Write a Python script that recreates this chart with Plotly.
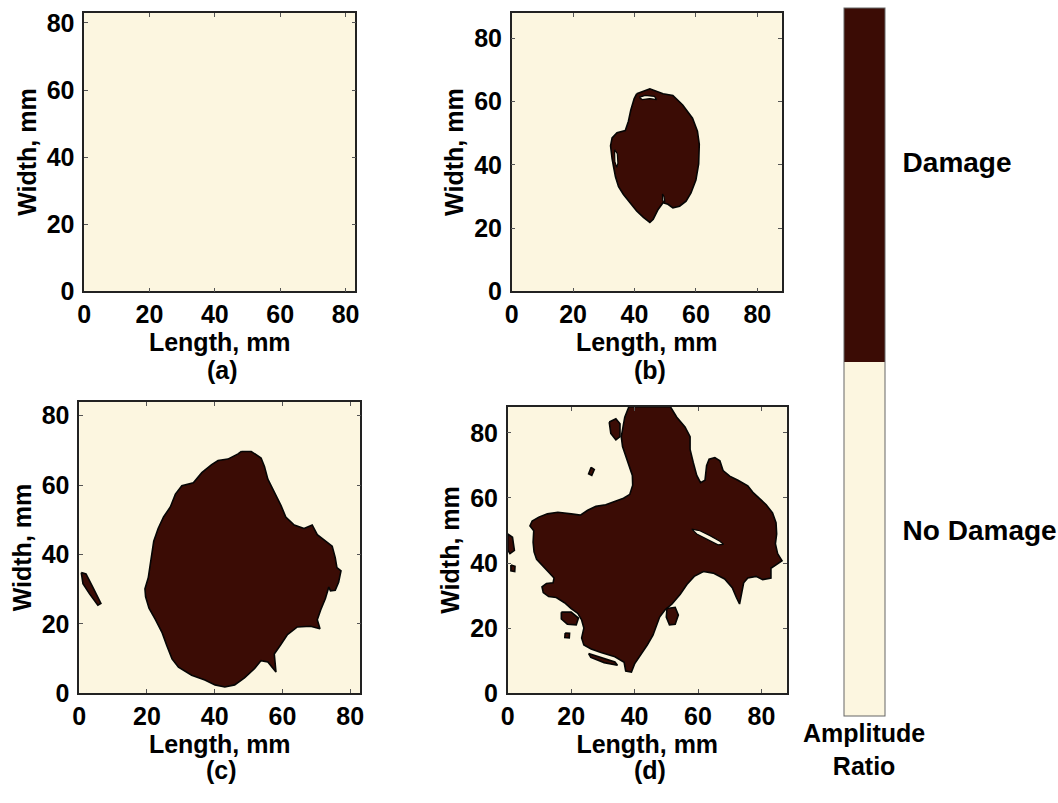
import plotly.graph_objects as go

# ---------------- data (mm) ----------------
CREAM = "#FCF6E0"
BROWN = "#3B0C05"

PANEL_LABELS = ["(a)", "(b)", "(c)", "(d)"]
X_RANGES = [83, 88, 83, 88]
Y_RANGES = [83, 88, 84, 88]
TICKS = [0, 20, 40, 60, 80]
CB_TICKVALS = [0.263, 0.782]
CB_TICKTEXT = ["No Damage", "Damage"]

# panel (b) damage outline
B_DAMAGE = [(40.7, 62.4), (45.0, 64.0), (49.3, 62.4), (52.5, 61.9), (55.7, 58.9), (58.9, 54.7),
            (60.5, 50.6), (61.1, 46.5), (60.9, 40.3), (60.0, 35.2), (58.4, 31.1), (56.8, 28.5),
            (54.7, 26.9), (52.5, 26.4), (50.9, 27.5), (49.3, 28.0), (47.7, 25.9), (46.1, 22.8),
            (45.0, 21.8), (42.9, 23.4), (40.7, 25.4), (38.6, 28.0), (36.4, 30.6), (34.8, 33.1),
            (33.8, 36.2), (33.2, 39.3), (32.7, 41.9), (32.2, 46.0), (32.7, 48.5), (34.3, 50.1),
            (37.0, 50.8), (38.0, 53.7), (38.8, 57.3), (39.9, 60.9)]
B_HOLES = [
    [(41.5, 61.3), (43.5, 61.9), (46.5, 61.6), (47.2, 60.6), (45.0, 60.9), (42.5, 60.6)],
    [(33.5, 44.8), (34.4, 43.5), (34.6, 40.5), (34.2, 39.2), (33.6, 41.0)],
    [(49.1, 30.8), (49.6, 30.0), (49.9, 28.3), (49.2, 28.6)],
]

# panel (c) damage outlines
C_DAMAGE = [
    [(47.9, 69.7), (50.8, 69.7), (53.7, 67.8), (54.7, 65.4), (55.7, 61.7), (57.6, 57.9),
     (59.6, 54.1), (61.0, 50.8), (63.5, 48.5), (66.4, 47.5), (68.8, 48.5), (70.3, 45.7),
     (72.7, 43.8), (74.7, 42.4), (75.6, 39.1), (76.1, 36.2), (77.3, 35.3), (76.6, 32.0),
     (75.6, 29.7), (74.2, 29.5), (73.7, 30.6), (72.7, 27.3), (71.3, 24.0), (70.3, 21.2),
     (71.1, 18.6), (68.3, 19.3), (64.4, 19.1), (61.5, 16.9), (59.6, 14.1), (57.6, 11.3),
     (58.1, 6.1), (55.7, 9.0), (53.7, 9.4), (51.8, 7.1), (48.8, 4.4), (45.9, 2.4),
     (43.0, 1.8), (40.1, 2.4), (37.1, 3.8), (33.2, 5.2), (29.3, 7.5), (27.4, 9.9),
     (25.9, 13.6), (24.5, 17.4), (22.5, 21.2), (20.6, 24.5), (19.6, 27.8), (19.4, 30.1),
     (20.4, 33.4), (21.3, 39.1), (22.0, 43.8), (23.3, 47.5), (24.9, 50.8), (26.9, 53.7),
     (28.4, 57.4), (30.3, 59.8), (33.7, 60.7), (36.2, 63.6), (39.1, 65.9), (41.0, 67.1),
     (43.9, 67.5), (46.9, 69.0)],
    [(0.6, 34.8), (2.0, 34.4), (4.0, 30.6), (6.4, 25.9), (5.5, 25.4), (3.0, 28.7), (1.1, 31.6)],
]

# panel (d) damage outlines
D_DAMAGE = [
    [(38.2, 88.0), (51.3, 88.0), (53.3, 84.8), (55.9, 81.8), (57.5, 78.8), (57.5, 74.9),
     (58.5, 70.9), (59.6, 66.9), (60.8, 64.7), (62.2, 65.4), (62.7, 69.9), (63.5, 71.9),
     (65.3, 72.4), (66.9, 71.4), (67.9, 68.4), (70.0, 66.7), (72.6, 65.4), (75.7, 63.7),
     (77.3, 61.7), (79.4, 59.9), (81.5, 57.9), (83.5, 55.4), (84.6, 52.4), (84.8, 48.9),
     (84.4, 45.9), (85.1, 42.9), (86.5, 40.7), (84.6, 39.4), (83.0, 38.4), (83.0, 35.4),
     (80.4, 34.9), (78.3, 35.9), (75.7, 35.4), (74.4, 33.9), (73.6, 30.4), (73.1, 27.4),
     (72.1, 29.4), (70.8, 32.4), (68.4, 35.1), (64.8, 36.9), (61.7, 37.4), (58.8, 35.9),
     (56.5, 33.4), (54.4, 30.4), (51.8, 27.4), (49.7, 25.7), (47.9, 23.4), (46.9, 20.5),
     (45.8, 17.8), (44.0, 14.8), (41.9, 11.8), (40.0, 9.0), (39.0, 6.5), (37.2, 6.8),
     (36.7, 9.5), (33.8, 11.2), (29.4, 12.5), (26.3, 13.6), (24.0, 14.8), (23.3, 17.0),
     (24.0, 20.0), (23.3, 22.5), (22.1, 24.5), (20.0, 26.0), (17.9, 27.8), (15.3, 29.4),
     (12.9, 29.7), (11.2, 30.9), (10.8, 32.7), (12.2, 33.7), (14.3, 33.9), (14.6, 35.4),
     (12.7, 37.4), (10.6, 39.4), (9.1, 41.1), (8.3, 43.4), (8.0, 46.4), (8.2, 49.9),
     (7.0, 51.4), (7.7, 52.9), (9.8, 54.1), (12.5, 55.1), (15.8, 55.6), (20.0, 55.1),
     (22.9, 54.7), (25.2, 56.2), (27.8, 57.4), (30.9, 57.9), (33.8, 58.9), (36.5, 59.9),
     (38.5, 61.1), (39.4, 63.9), (39.3, 66.9), (38.2, 69.9), (37.2, 72.8), (36.2, 75.8),
     (35.8, 78.8), (36.3, 81.8), (36.9, 84.8), (37.7, 86.8)],
    [(25.5, 12.2), (29.4, 10.9), (33.8, 9.6), (34.6, 8.6), (30.4, 9.4), (26.2, 11.0)],
    [(50.2, 26.0), (52.8, 26.4), (53.8, 24.0), (52.8, 21.2), (51.0, 21.0), (50.0, 23.4)],
    [(32.0, 83.3), (34.1, 84.3), (35.4, 82.8), (35.4, 78.8), (34.1, 77.8), (32.5, 79.8)],
    [(26.3, 69.4), (27.3, 68.7), (26.5, 66.9), (25.5, 67.4)],
    [(0.0, 48.9), (1.5, 47.9), (2.1, 43.9), (0.7, 42.9), (0.0, 44.0)],
    [(1.0, 39.4), (2.3, 39.0), (2.2, 37.4), (1.0, 37.6)],
    [(16.9, 24.9), (20.0, 24.9), (22.3, 23.1), (21.6, 21.0), (18.8, 21.2), (16.9, 22.8)],
    [(18.1, 18.5), (19.5, 18.4), (19.4, 17.0), (18.0, 17.1)],
]
D_HOLES = [
    [(58.0, 50.4), (60.6, 49.9), (63.8, 48.4), (66.9, 46.7), (68.1, 45.7), (66.3, 45.6),
     (63.2, 47.1), (59.6, 48.9)],
]

PANEL_DAMAGE = [[], [B_DAMAGE], C_DAMAGE, D_DAMAGE]
PANEL_HOLES = [[], B_HOLES, [], D_HOLES]

# ---------------- layout geometry (pixels) ----------------
W, H = 1058, 803
BOXES = [(78, 352, 9, 294), (510, 783, 9, 294), (73, 357, 407, 705), (506, 788, 412, 705)]
LABEL_POS = [(218, 374), (650, 374), (217, 784), (650, 784)]

FONT = "Liberation Sans, Arial, sans-serif"
FS = 25


def poly_xy(polys):
    xs, ys = [], []
    for p in polys:
        xs += [q[0] for q in p] + [p[0][0], None]
        ys += [q[1] for q in p] + [p[0][1], None]
    return xs, ys


def bold(size):
    return dict(family=FONT, size=size, color="black", weight=700)


fig = go.Figure()
layout = {}
for i in range(4):
    n = "" if i == 0 else str(i + 1)
    xa, ya = "x" + n, "y" + n
    l, r, t, b = BOXES[i]
    axis_common = dict(
        tickvals=TICKS, ticks="inside", ticklen=4, tickcolor="#555", tickwidth=1,
        showline=True, linecolor="#222", linewidth=1.5, mirror="ticks",
        showgrid=False, zeroline=False, fixedrange=True,
        tickfont=bold(FS),
    )
    layout["xaxis" + n] = dict(
        axis_common, domain=[l / W, r / W], range=[0, X_RANGES[i]], anchor=ya,
        title=dict(text="Length, mm", font=bold(FS), standoff=0),
    )
    layout["yaxis" + n] = dict(
        axis_common, domain=[1 - b / H, 1 - t / H], range=[0, Y_RANGES[i]], anchor=xa,
        ticklabelstandoff=3,
        title=dict(text="Width, mm", font=bold(FS), standoff=3),
    )
    if PANEL_DAMAGE[i]:
        xs, ys = poly_xy(PANEL_DAMAGE[i])
        fig.add_trace(go.Scatter(x=xs, y=ys, xaxis=xa, yaxis=ya, mode="lines", fill="toself",
                                 fillcolor=BROWN, line=dict(color="#050505", width=1.6),
                                 hoverinfo="skip", showlegend=False))
    if PANEL_HOLES[i]:
        xs, ys = poly_xy(PANEL_HOLES[i])
        fig.add_trace(go.Scatter(x=xs, y=ys, xaxis=xa, yaxis=ya, mode="lines", fill="toself",
                                 fillcolor=CREAM, line=dict(color="#050505", width=1.2),
                                 hoverinfo="skip", showlegend=False))

# colour bar (two-level amplitude ratio)
fig.add_trace(go.Scatter(
    x=[None, None], y=[None, None], mode="markers", showlegend=False, hoverinfo="skip",
    marker=dict(
        color=[0, 1], cmin=0, cmax=1,
        colorscale=[[0, CREAM], [0.5, CREAM], [0.5, BROWN], [1, BROWN]],
        showscale=True,
        colorbar=dict(
            x=846 / W, xanchor="left", y=1 - 4 / H, yanchor="top",
            len=708, lenmode="pixels", thickness=41, thicknessmode="pixels",
            xpad=0, ypad=0, outlinewidth=1, outlinecolor="#666",
            tickvals=CB_TICKVALS, ticktext=CB_TICKTEXT,
            ticks="outside", ticklen=12, tickcolor="rgba(0,0,0,0)",
            tickfont=bold(28),
        ),
    ),
))

annotations = []
for (px, py), txt in zip(LABEL_POS, PANEL_LABELS):
    annotations.append(dict(text=txt, x=px / W, y=1 - py / H, xref="paper", yref="paper",
                            showarrow=False, xanchor="center", yanchor="middle",
                            font=bold(FS)))
annotations.append(dict(text="Amplitude<br>Ratio", x=866 / W, y=1 - 729 / H, xref="paper",
                        yref="paper", showarrow=False, xanchor="center", yanchor="top",
                        font=bold(25)))

fig.update_layout(
    width=W, height=H, margin=dict(l=0, r=0, t=0, b=0),
    paper_bgcolor="white", plot_bgcolor=CREAM,
    annotations=annotations, **layout,
)

fig.write_html("out.html")
